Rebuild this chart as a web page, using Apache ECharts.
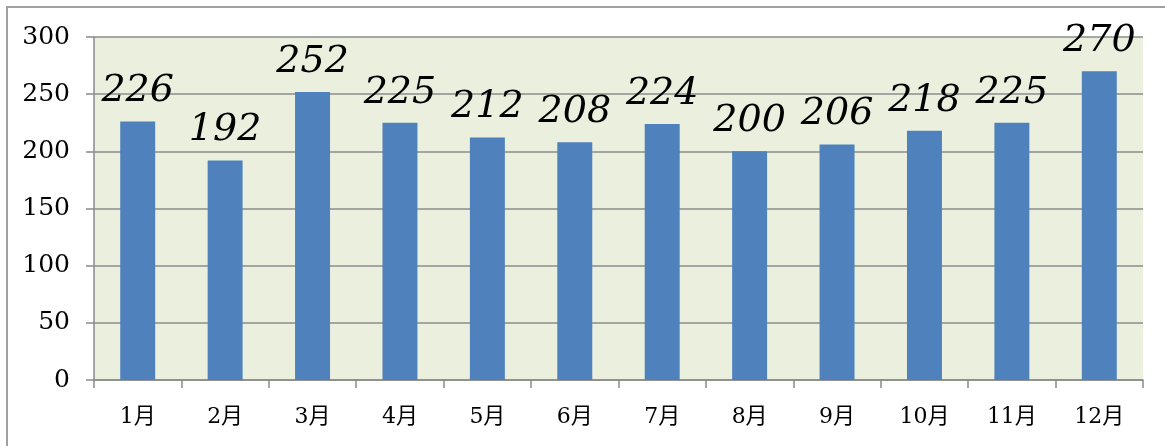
<!DOCTYPE html>
<html><head><meta charset="utf-8">
<script src="https://cdn.jsdelivr.net/npm/echarts@6/dist/echarts.min.js"></script>
<style>html,body{margin:0;padding:0;background:#fff;}#c{width:1165px;height:446px;}</style>
</head><body><div id="c"></div>
<script>
const categories = ['1月','2月','3月','4月','5月','6月','7月','8月','9月','10月','11月','12月'];
const values = [226,192,252,225,212,208,224,200,206,218,225,270];
const yTicks = {min:0, max:300, interval:50};

const chart = echarts.init(document.getElementById('c'));
chart.setOption({
  animation:false,
  backgroundColor:'#ffffff',
  graphic:[{type:'rect', shape:{x:7,y:7,width:1300,height:600}, style:{fill:'none', stroke:'#a0a0a0', lineWidth:2}, z:-10}],
  grid:{left:94, right:22, top:37, bottom:66, show:true, backgroundColor:'#EBEFDE', borderWidth:0},
  xAxis:{type:'category', data:categories, boundaryGap:true,
    axisLine:{lineStyle:{color:'#8a8a8a', width:1.5}},
    axisTick:{show:true, length:8, lineStyle:{color:'#8a8a8a', width:1.5}},
    axisLabel:{color:'#000', fontFamily:'DejaVu Serif, Noto Sans CJK JP', fontSize:22, margin:26}},
  yAxis:{type:'value', min:yTicks.min, max:yTicks.max, interval:yTicks.interval,
    axisLine:{show:true, lineStyle:{color:'#8a8a8a', width:1.5}},
    axisTick:{show:true, length:8, lineStyle:{color:'#8a8a8a', width:1.5}},
    splitLine:{lineStyle:{color:'#8c8c8c', width:1.5}},
    axisLabel:{color:'#000', fontFamily:'DejaVu Serif', fontSize:25, margin:24}},
  series:[{type:'bar', data:values, barWidth:'40%',
    itemStyle:{color:'#4F81BD'},
    label:{show:true, position:'top', distance:11, color:'#000', fontFamily:'DejaVu Serif', fontStyle:'italic', fontSize:38}}]
});
</script></body></html>
